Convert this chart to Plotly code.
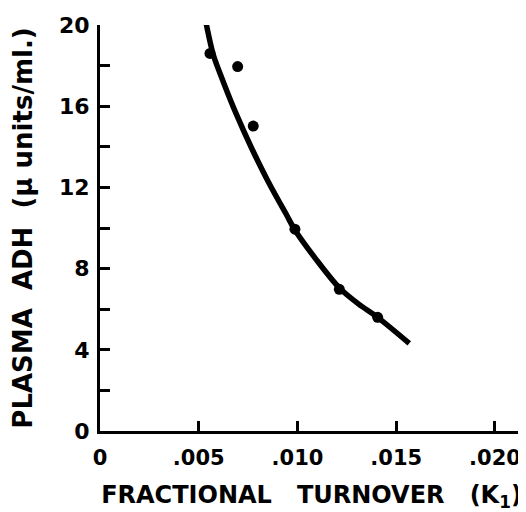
import plotly.graph_objects as go

# Measured points
pt_x = [0.00557, 0.00697, 0.00776, 0.00987, 0.01212, 0.01406]
pt_y = [18.6, 17.95, 15.02, 9.94, 6.98, 5.6]

# Fitted curve
curve_x = [0.00535, 0.00574, 0.00624, 0.00692, 0.00768, 0.00852, 0.00945, 0.00987,
           0.01097, 0.01212, 0.0131, 0.01406, 0.01566]
curve_y = [20.2, 18.52, 17.21, 15.57, 13.93, 12.28, 10.64, 9.90,
           8.42, 7.05, 6.25, 5.6, 4.32]

x_ticks = [0, 0.005, 0.010, 0.015, 0.020]
x_ticklabels = ["0", ".005", ".010", ".015", ".020"]
y_ticks = [0, 4, 8, 12, 16, 20]
y_ticklabels = ["0", "4", "8", "12", "16", "20"]
y_minor = [2, 6, 10, 14, 18]

FONT = "DejaVu Sans"

fig = go.Figure()
fig.add_trace(go.Scatter(x=curve_x, y=curve_y, mode="lines",
                         line=dict(color="black", width=5.5, shape="spline", smoothing=0.8),
                         hoverinfo="skip"))
fig.add_trace(go.Scatter(x=pt_x, y=pt_y, mode="markers",
                         marker=dict(color="black", size=11), cliponaxis=False))

# page body has an 8px margin, so the figure is drawn 8px in from the top-left
fig.update_layout(
    width=518, height=504,
    margin=dict(l=92, r=3, t=17, b=81),
    paper_bgcolor="white", plot_bgcolor="white",
    showlegend=False,
    font=dict(family=FONT, color="black", size=20),
)
fig.update_xaxes(
    range=[0, 0.02142], showgrid=False, zeroline=False, automargin=False,
    showline=True, linecolor="black", linewidth=3,
    tickmode="array", tickvals=x_ticks, ticktext=x_ticklabels,
    ticks="inside", ticklen=10, tickwidth=3, tickcolor="black",
    tickfont=dict(family=FONT, size=21, weight="bold"),
    ticklabelstandoff=6,
    title=dict(text="FRACTIONAL   TURNOVER   (K<sub>1</sub>)",
               font=dict(family=FONT, size=24, weight="bold"), standoff=18),
)
fig.update_yaxes(
    range=[0, 20], showgrid=False, zeroline=False, automargin=False,
    showline=True, linecolor="black", linewidth=3,
    tickmode="array", tickvals=y_ticks, ticktext=y_ticklabels,
    ticks="inside", ticklen=10, tickwidth=3, tickcolor="black",
    minor=dict(tickvals=y_minor, ticks="inside", ticklen=10,
               tickwidth=3, tickcolor="black"),
    tickfont=dict(family=FONT, size=22, weight="bold"),
    ticklabelstandoff=3,
    title=dict(text="PLASMA  ADH  (μ units/ml.)",
               font=dict(family=FONT, size=26, weight="bold"), standoff=19),
)

fig.write_html("out.html")
